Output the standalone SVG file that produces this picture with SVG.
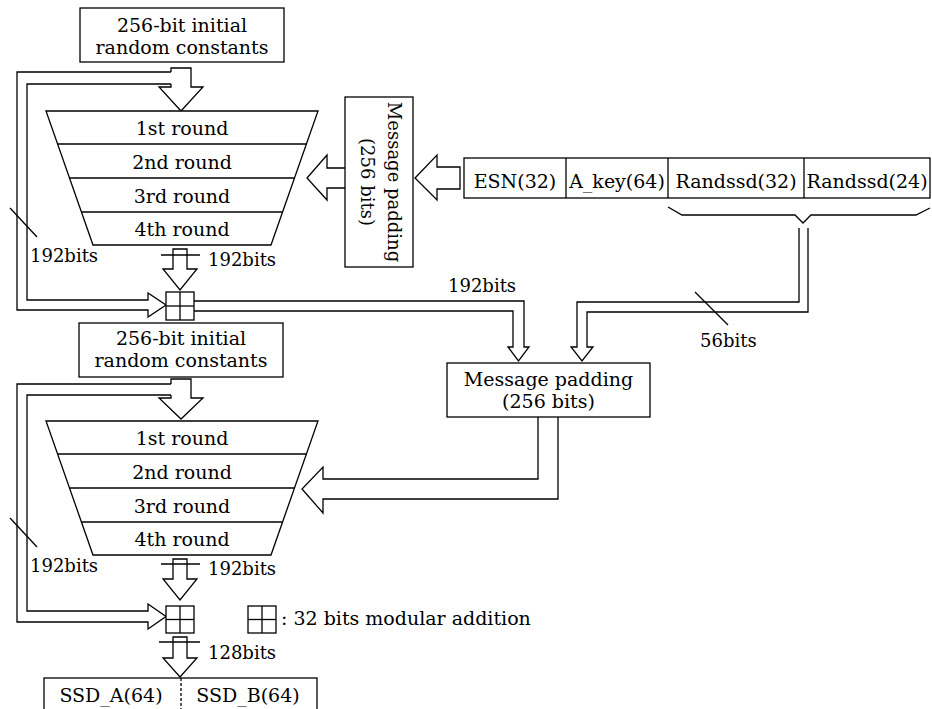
<svg xmlns="http://www.w3.org/2000/svg" width="932" height="709" viewBox="0 0 932 709">
<style>
  .ln{fill:none;stroke:#000;stroke-width:1.3;stroke-linejoin:miter}
  .bx{fill:#fff;stroke:#000;stroke-width:1.3}
  text{font-family:"DejaVu Serif","Liberation Serif",serif;font-size:19px;fill:#000}
  .c{text-anchor:middle}
  .sm{font-size:18px}
  .vt{font-size:18px}
</style>
<rect width="932" height="709" fill="#fff"/>

<g id="connectors">
  <path class="ln" d="M171,72 L17,72 L17,310 L148,310 L148,317 L166,305 L148,293 L148,300 L27,300 L27,84 L171,84"/>
  <path class="ln" d="M171,72 L171,68 L191,68 L191,87 L203,87 L181,111 L159,87 L171,87 L171,84"/>
  <line class="ln" x1="10" y1="208" x2="37" y2="237"/>
  <path class="ln" d="M173,269 L173,249 L187,249 L187,269 L197,269 L180,290 L163,269 Z"/>
  <line class="ln" x1="161" y1="255" x2="200" y2="255"/>
  <path class="ln" d="M460,167 L437,167 L437,155 L415,178 L437,200 L437,189 L460,189 Z"/>
  <path class="ln" d="M345,168 L327,168 L327,155 L307,178 L327,200 L327,188 L345,188"/>
  <path class="ln" d="M194,301 L524,301 L524,347 L529,347 L518.5,361 L508,347 L513,347 L513,311 L194,311"/>
  <path class="ln" d="M799,228 L799,302 L577,302 L577,347 L571,347 L582,361 L593,347 L587,347 L587,312 L808,312 L808,228"/>
  <line class="ln" x1="695" y1="292" x2="728" y2="325"/>
  <path class="ln" d="M538,417 L538,479 L323,479 L323,467 L302,489 L323,513 L323,499 L558,499 L558,417"/>
  <path class="ln" d="M171,384 L17,384 L17,622 L148,622 L148,629 L166,616.5 L148,604 L148,611 L27,611 L27,395 L171,395"/>
  <path class="ln" d="M171,384 L171,379 L191,379 L191,398 L203,398 L181,419 L159,398 L171,398 L171,395"/>
  <line class="ln" x1="10" y1="518" x2="37" y2="547"/>
  <path class="ln" d="M173,579 L173,559 L187,559 L187,579 L197,579 L180,600 L163,579 Z"/>
  <line class="ln" x1="161" y1="564" x2="200" y2="564"/>
  <path class="ln" d="M173,658 L173,637 L187,637 L187,658 L197,658 L180,677 L163,658 Z"/>
  <line class="ln" x1="159" y1="642" x2="200" y2="642"/>
  <text class="sm" x="30" y="262">192bits</text>
  <text class="sm" x="208" y="266">192bits</text>
  <text class="sm" x="448" y="292">192bits</text>
  <text class="sm" x="700" y="347">56bits</text>
  <text class="sm" x="30" y="572">192bits</text>
  <text class="sm" x="208" y="575">192bits</text>
  <text class="sm" x="208" y="659">128bits</text>
</g>

<g id="init1">
  <rect class="bx" x="80" y="8" width="204" height="54"/>
  <text class="c" x="182" y="32">256-bit initial</text>
  <text class="c" x="182" y="54">random constants</text>
</g>

<g id="rounds1">
  <polygon class="bx" points="46,111 318,111 271,245 93,245"/>
  <line class="ln" x1="57.6" y1="144" x2="306.4" y2="144"/>
  <line class="ln" x1="69.5" y1="178" x2="294.5" y2="178"/>
  <line class="ln" x1="81.4" y1="212" x2="282.6" y2="212"/>
  <text class="c" x="182" y="135">1st round</text>
  <text class="c" x="182" y="169">2nd round</text>
  <text class="c" x="182" y="203">3rd round</text>
  <text class="c" x="182" y="236">4th round</text>
</g>

<g id="padding_vertical">
  <rect class="bx" x="345" y="97" width="68" height="170"/>
  <text class="c vt" transform="translate(388,182) rotate(90)">Message padding</text>
  <text class="c vt" transform="translate(361,182) rotate(90)">(256 bits)</text>
</g>

<g id="fields">
  <rect class="bx" x="464" y="158" width="466" height="40"/>
  <line class="ln" x1="566" y1="158" x2="566" y2="198"/>
  <line class="ln" x1="668" y1="158" x2="668" y2="198"/>
  <line class="ln" x1="804" y1="158" x2="804" y2="198"/>
  <text class="c" x="515" y="188">ESN(32)</text>
  <text class="c" x="617" y="188">A_key(64)</text>
  <text class="c" x="736" y="188">Randssd(32)</text>
  <text class="c" x="867" y="188">Randssd(24)</text>
</g>

<g id="brace">
  <path class="ln" d="M668,207 L682,215 L795,215 L803,223 L811,215 L916,215 L930,208"/>
</g>

<g id="add1">
  <rect class="bx" x="166" y="292" width="28" height="28"/>
  <line class="ln" x1="180" y1="292" x2="180" y2="320"/>
  <line class="ln" x1="166" y1="306" x2="194" y2="306"/>
</g>

<g id="init2">
  <rect class="bx" x="79" y="323" width="204" height="54"/>
  <text class="c" x="181" y="345">256-bit initial</text>
  <text class="c" x="181" y="367">random constants</text>
</g>

<g id="padding">
  <rect class="bx" x="447" y="363" width="203" height="54"/>
  <text class="c" x="548.5" y="386">Message padding</text>
  <text class="c" x="548.5" y="408">(256 bits)</text>
</g>

<g id="rounds2">
  <polygon class="bx" points="46,421 318,421 271,555 93,555"/>
  <line class="ln" x1="57.6" y1="454" x2="306.4" y2="454"/>
  <line class="ln" x1="69.5" y1="488" x2="294.5" y2="488"/>
  <line class="ln" x1="81.4" y1="522" x2="282.6" y2="522"/>
  <text class="c" x="182" y="445">1st round</text>
  <text class="c" x="182" y="479">2nd round</text>
  <text class="c" x="182" y="513">3rd round</text>
  <text class="c" x="182" y="546">4th round</text>
</g>

<g id="add2">
  <rect class="bx" x="166" y="606" width="28" height="27"/>
  <line class="ln" x1="180" y1="606" x2="180" y2="633"/>
  <line class="ln" x1="166" y1="619.5" x2="194" y2="619.5"/>
</g>

<g id="legend">
  <rect class="bx" x="248" y="606" width="28" height="27"/>
  <line class="ln" x1="262" y1="606" x2="262" y2="633"/>
  <line class="ln" x1="248" y1="619.5" x2="276" y2="619.5"/>
  <text x="281" y="625">: 32 bits modular addition</text>
</g>

<g id="ssd">
  <rect class="bx" x="44" y="678" width="273" height="40"/>
  <line class="ln" x1="181" y1="678" x2="181" y2="709" stroke-dasharray="3,2"/>
  <text class="c" x="111" y="702">SSD_A(64)</text>
  <text class="c" x="248" y="702">SSD_B(64)</text>
</g>
</svg>
